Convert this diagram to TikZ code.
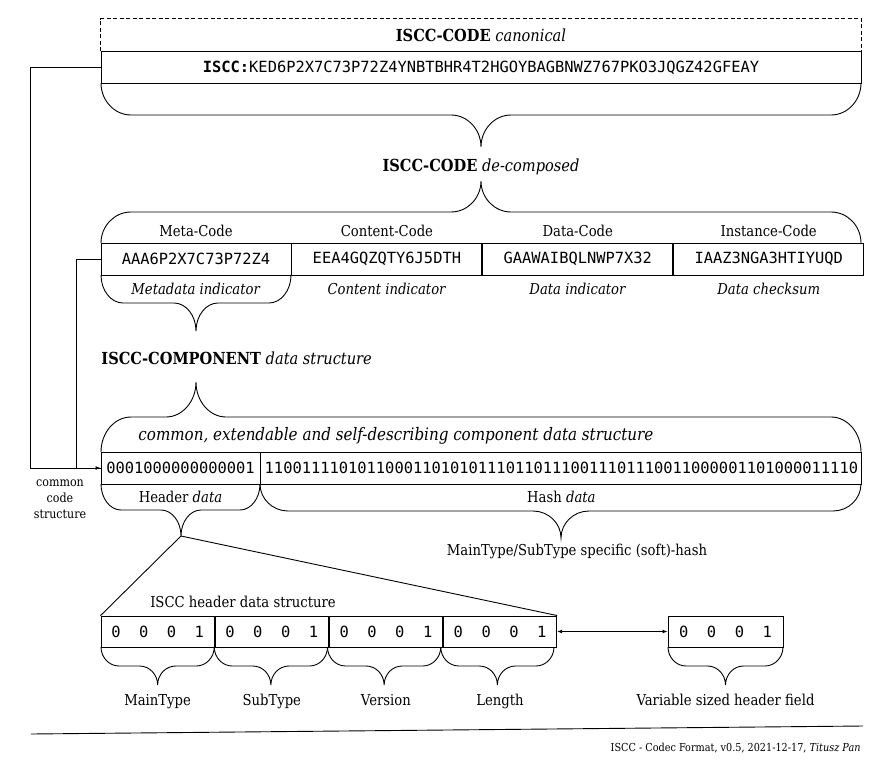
\documentclass[tikz,border=0pt]{standalone}
\usepackage{fontspec}
\setmainfont{DejaVu Serif}[FakeStretch=0.88]
\setmonofont{DejaVu Sans Mono}
\usetikzlibrary{arrows.meta,positioning}
% curly brace: left x, right x, tip x, y of the ends, depth, corner width
\newcommand{\curly}[6]{%
  \draw (#1,#4) .. controls (#1,{#4+0.55*(#5)}) and ({#1+0.45*#6},{#4+(#5)}) .. ({#1+#6},{#4+(#5)})
    -- ({#3-#6},{#4+(#5)}) .. controls ({#3-0.45*#6},{#4+(#5)}) and (#3,{#4+1.45*(#5)}) .. (#3,{#4+2*(#5)})
    .. controls (#3,{#4+1.45*(#5)}) and ({#3+0.45*#6},{#4+(#5)}) .. ({#3+#6},{#4+(#5)})
    -- ({#2-#6},{#4+(#5)}) .. controls ({#2-0.45*#6},{#4+(#5)}) and (#2,{#4+0.55*(#5)}) .. (#2,#4);}
\tikzset{%
  >={Latex[width=4pt,length=5pt]},
  % Specifications for style of nodes:
  plaintext/.style = {inner sep=0pt, font=\fontsize{15}{18}\selectfont},
   headline/.style = {inner sep=0pt, font=\fontsize{16.6}{20}\selectfont},
  smalltext/.style = {inner sep=0pt, align=center, font=\fontsize{12.6}{16}\selectfont},
       base/.style = {rectangle, draw=black, inner sep=0pt,
                      font=\fontsize{15.4}{18}\selectfont\ttfamily},
   codecell/.style = {base, minimum width=190pt, minimum height=32pt},
    bitcell/.style = {base, minimum height=32pt},
     nibble/.style = {base, minimum width=113.25pt, minimum height=31pt},
}
\begin{document}
\begin{tikzpicture}[x=1pt, y=-1pt, line width=0.9pt]
  \useasboundingbox (0,0) rectangle (888,781);

  % canonical ISCC-CODE
  \node (cantitle) [headline, minimum width=760pt, minimum height=32pt] at (481,35)
    {\textbf{ISCC-CODE} \textit{canonical}};
  \draw[dashed, dash pattern=on 4pt off 2.5pt]
    (cantitle.south west) |- (cantitle.north east) -- (cantitle.south east);
  \node (canon) [base, minimum width=760pt, minimum height=32pt, below=0pt of cantitle]
    {\textbf{ISCC:}KED6P2X7C73P72Z4YNBTBHR4T2HGOYBAGBNWZ767PKO3JQGZ42GFEAY};
  \curly{101}{861}{481}{83}{32}{30}

  % de-composed
  \node (dectitle) [headline, anchor=base] at (481,171) {\textbf{ISCC-CODE} \textit{de-composed}};
  \curly{101}{861}{481}{243}{-31}{30}
  \node (meta)     [codecell] at (196,259)     {AAA6P2X7C73P72Z4};
  \node (content)  [codecell, right=0pt of meta]    {EEA4GQZQTY6J5DTH};
  \node (data)     [codecell, right=0pt of content] {GAAWAIBQLNWP7X32};
  \node (instance) [codecell, right=0pt of data]    {IAAZ3NGA3HTIYUQD};
  \node (metaname)     [plaintext, anchor=base] at ([yshift=6pt]meta.north)     {Meta-Code};
  \node (contentname)  [plaintext, anchor=base] at ([yshift=6pt]content.north)  {Content-Code};
  \node (dataname)     [plaintext, anchor=base] at ([yshift=6pt]data.north)     {Data-Code};
  \node (instancename) [plaintext, anchor=base] at ([yshift=6pt]instance.north) {Instance-Code};
  \node (metanote)     [plaintext, anchor=base] at ([yshift=-19pt]meta.south)     {\textit{Metadata indicator}};
  \node (contentnote)  [plaintext, anchor=base] at ([yshift=-19pt]content.south)  {\textit{Content indicator}};
  \node (datanote)     [plaintext, anchor=base] at ([yshift=-19pt]data.south)     {\textit{Data indicator}};
  \node (instancenote) [plaintext, anchor=base] at ([yshift=-19pt]instance.south) {\textit{Data checksum}};
  \curly{101}{291}{196}{275}{28}{22}

  % component data structure
  \node (comptitle) [headline, anchor=base west] at (101,364)
    {\textbf{ISCC-COMPONENT} \textit{data structure}};
  \curly{101}{861}{196}{452}{-35}{30}
  \node (compnote) [headline, anchor=base west, font=\fontsize{17.2}{20}\selectfont] at (138,440)
    {\textit{common, extendable and self-describing component data structure}};
  \node (header) [bitcell, minimum width=159pt] at (180.5,468) {0001000000000001};
  \node (hash)   [bitcell, minimum width=601pt, right=0pt of header]
    {1100111101011000110101011101101110011101110011000001101000011110};
  \node (headername) [plaintext, anchor=base] at ([yshift=-18pt]header.south) {Header \textit{data}};
  \node (hashname)   [plaintext, anchor=base] at ([yshift=-18pt]hash.south)   {Hash \textit{data}};
  \curly{101}{260}{181}{484}{26}{20}
  \curly{260}{861}{561}{484}{27}{28}
  \coordinate (hdtip) at (181,536);
  \node (hashnote) [plaintext, anchor=base] at (577,555) {MainType/SubType specific (soft)-hash};

  % common code structure
  \node (common) [smalltext] at (60,499) {common\\code\\structure};
  \draw[->] (canon.west) -- ++(-70,0) |- (header.west);
  \draw     (meta.west) -- ++(-24,0) |- (header.west);

  % header data structure
  \node (hdtitle) [plaintext, anchor=base] at (243,607) {ISCC header data structure};
  \node (maintype) [nibble] at (157.625,631.5)        {0~~0~~0~~1};
  \node (subtype)  [nibble, right=0pt of maintype] {0~~0~~0~~1};
  \node (version)  [nibble, right=0pt of subtype]  {0~~0~~0~~1};
  \node (length)   [nibble, right=0pt of version]  {0~~0~~0~~1};
  \node (varfield) [nibble, minimum width=115pt] at (725.5,631.5) {0~~0~~0~~1};
  \draw (hdtip) -- (maintype.north west);
  \draw (hdtip) -- (length.north east);
  \draw[<->] (length.east) -- (varfield.west);
  \curly{101}{214.25}{157.625}{647}{19}{18}
  \curly{214.25}{327.5}{270.875}{647}{19}{18}
  \curly{327.5}{440.75}{384.125}{647}{19}{18}
  \curly{440.75}{554}{497.375}{647}{19}{18}
  \curly{668}{783}{725.5}{647}{19}{18}
  \node (maintypename) [plaintext, anchor=base] at ([yshift=-58pt]maintype.south) {MainType};
  \node (subtypename)  [plaintext, anchor=base] at ([yshift=-58pt]subtype.south)  {SubType};
  \node (versionname)  [plaintext, anchor=base] at ([yshift=-58pt]version.south)  {Version};
  \node (lengthname)   [plaintext, anchor=base] at ([yshift=-58pt]length.south)   {Length};
  \node (varname)      [plaintext, anchor=base] at ([yshift=-58pt]varfield.south) {Variable sized header field};

  % footer
  \draw (31,734) -- (863,726);
  \node (footer) [plaintext, anchor=base east, font=\fontsize{11}{13}\selectfont] at (861,751)
    {ISCC - Codec Format, v0.5, 2021-12-17, \textit{Titusz Pan}};
\end{tikzpicture}
\end{document}
